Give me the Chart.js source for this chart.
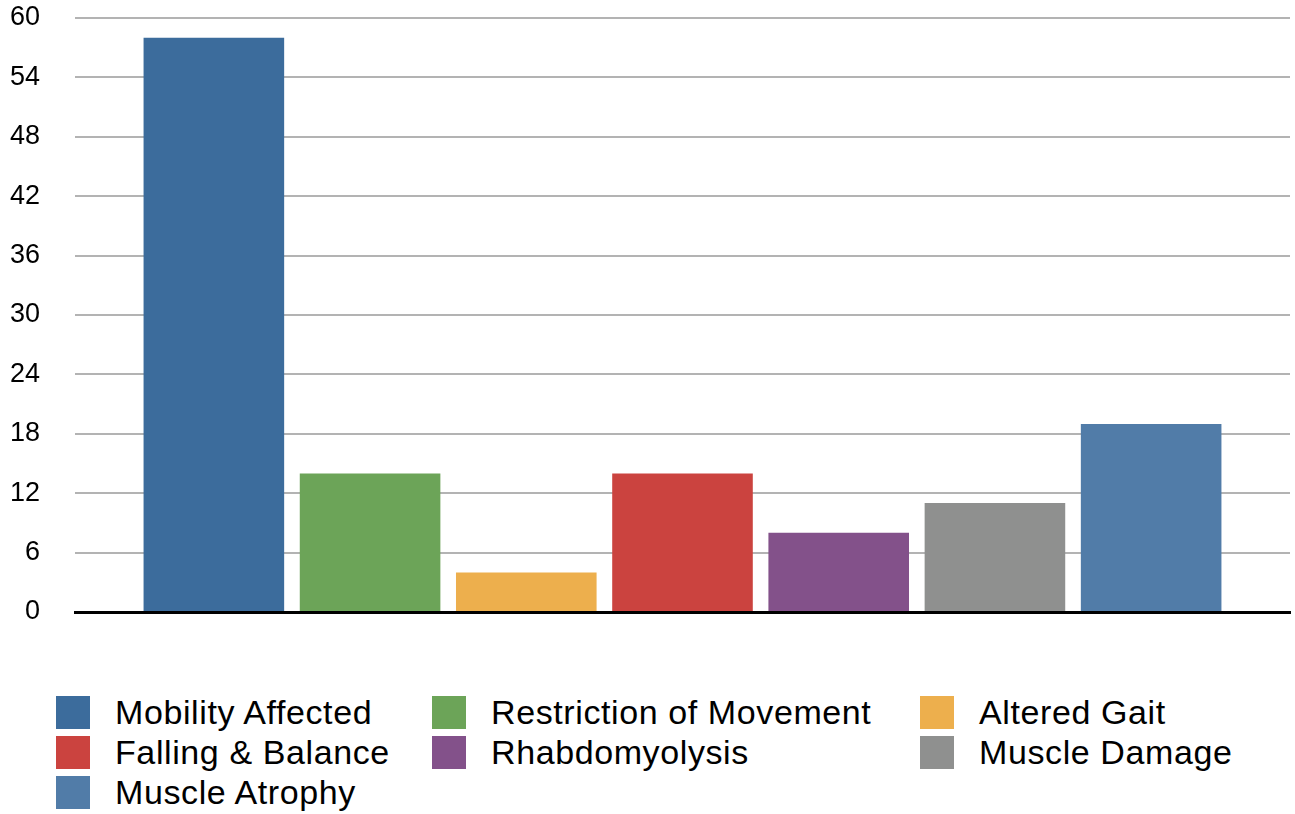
<!DOCTYPE html>
<html>
<head>
<meta charset="utf-8">
<script src="https://cdn.jsdelivr.net/npm/chart.js@4.4.1/dist/chart.umd.min.js"></script>
<style>
  html, body { margin: 0; padding: 0; background: #fff; }
  body { width: 1295px; height: 814px; position: relative; overflow: hidden;
         font-family: "Liberation Sans", Helvetica, Arial, sans-serif; }
  #chartBox { position: absolute; left: 0; top: 0; width: 1295px; height: 640px; }
  #legend { position: absolute; left: 0; top: 696px; width: 1295px; }
  .item { position: absolute; height: 33px; display: flex; align-items: center;
          font-size: 34px; letter-spacing: 0.6px; color: #000; white-space: nowrap; }
  .item span.box { display: inline-block; width: 34px; height: 33px; margin-right: 25px; }
</style>
</head>
<body>
<div id="chartBox"><canvas id="c" width="1295" height="640"></canvas></div>
<div id="legend"></div>
<script>
// categories / series (one bar per series)
const seriesNames = ['Mobility Affected', 'Restriction of Movement', 'Altered Gait',
                     'Falling & Balance', 'Rhabdomyolysis', 'Muscle Damage', 'Muscle Atrophy'];
const seriesValues = [58, 14, 4, 14, 8, 11, 19];
const seriesColors = ['#3c6c9c', '#6ca458', '#edaf4d', '#cb433f', '#83518a', '#8f908f', '#517ca8'];
const yTicks = [0, 6, 12, 18, 24, 30, 36, 42, 48, 54, 60];

const datasets = seriesNames.map((name, i) => ({
    label: name,
    data: [seriesValues[i]],
    backgroundColor: seriesColors[i],
    borderWidth: 0,
    barPercentage: 0.9,
    categoryPercentage: 0.9
}));

new Chart(document.getElementById('c'), {
    type: 'bar',
    data: { labels: [''], datasets: datasets },
    options: {
        responsive: false,
        animation: false,
        layout: { padding: { top: 18, right: 5, bottom: 28, left: 0 } },
        plugins: { legend: { display: false }, tooltip: { enabled: true } },
        scales: {
            x: {
                z: 1, // baseline drawn over the bars
                ticks: { display: false },
                grid: { display: false, drawTicks: false },
                border: { display: true, color: '#000', width: 3 }
            },
            y: {
                min: 0,
                max: 60,
                afterBuildTicks: (scale) => { scale.ticks = yTicks.map(v => ({ value: v })); },
                afterFit: (scale) => { scale.width = 75; },
                ticks: {
                    color: '#000',
                    padding: 0,
                    font: { family: 'Liberation Sans', size: 27 }
                },
                grid: {
                    // invisible tick marks just push the labels left
                    drawTicks: true,
                    tickLength: 35,
                    tickColor: 'rgba(0,0,0,0)',
                    color: (ctx) => ctx.tick && ctx.tick.value === 0 ? 'rgba(0,0,0,0)' : '#b3b3b3',
                    lineWidth: 2
                },
                border: { display: false }
            }
        }
    }
});

// legend (3 columns, row-major like the original)
const legendCols = [56, 432, 920];
const legendRowStep = 40;
const legendEl = document.getElementById('legend');
seriesNames.forEach((name, i) => {
    const d = document.createElement('div');
    d.className = 'item';
    d.style.left = legendCols[i % 3] + 'px';
    d.style.top = (Math.floor(i / 3) * legendRowStep) + 'px';
    d.innerHTML = '<span class="box" style="background:' + seriesColors[i] + '"></span>';
    d.appendChild(document.createTextNode(name));
    legendEl.appendChild(d);
});
</script>
</body>
</html>
